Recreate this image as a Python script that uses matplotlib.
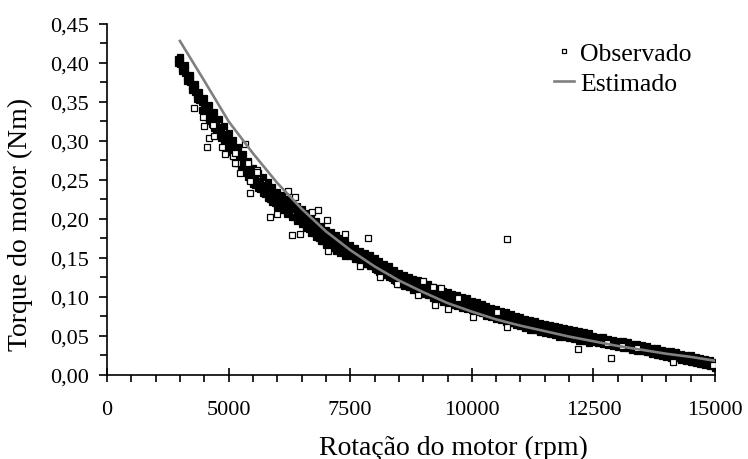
import numpy as np
import matplotlib
matplotlib.use("Agg")
import matplotlib.pyplot as plt
from matplotlib.ticker import MultipleLocator, FuncFormatter

plt.rcParams['font.family'] = ['Liberation Serif', 'DejaVu Serif']

# Estimated curve (rpm, Nm)
est_rpm = [4000, 4500, 5000, 5500, 6000, 6500, 7000, 7500, 8000, 8500, 9000, 9500,
           10000, 10500, 11000, 11500, 12000, 12500, 13000, 13500, 14000, 14500, 15000]
est_torque = [0.428, 0.377, 0.325, 0.284, 0.246, 0.213, 0.184, 0.160, 0.139, 0.121,
              0.106, 0.092, 0.081, 0.071, 0.063, 0.056, 0.049, 0.043, 0.037, 0.032,
              0.027, 0.023, 0.018]

# Observed band: five rows of samples every 100 rpm (torque in 1/1000 Nm)
obs_rpm = np.arange(4000, 15001, 100)
obs_rpm_b = np.arange(3950, 15000, 100)
obs_row1 = [408, 397, 385, 373, 362,
            355, 346, 337, 328, 319, 310, 301, 292, 283, 274, 265, 259, 253, 247, 241,
            235, 231, 226, 222, 217, 213, 208, 202, 197, 191, 186, 183, 179, 176, 172,
            166, 163, 159, 156, 153, 150, 146, 142, 139, 135, 131, 128, 126, 123, 121,
            118, 116, 113, 111, 108, 106, 104, 102, 100, 98,
            95, 93, 91, 88, 86, 84, 82, 80, 78, 76, 74, 72, 70, 69, 67, 65, 64, 63, 61,
            60, 59, 58, 56, 55, 53,
            50, 49, 48, 46, 45, 44, 43, 42, 40, 39, 38, 37, 35, 34, 32, 31, 30, 29, 27,
            26, 25, 23, 22, 20, 19, 17]
obs_row2 = [405, 394, 382, 370, 359,
            350, 341, 332, 323, 314, 305, 296, 287, 278, 269, 260, 254, 248, 242, 236,
            230, 226, 221, 217, 212, 208, 203, 197, 192, 186, 181, 178, 174, 171, 167,
            162, 159, 155, 152, 149, 146, 142, 138, 135, 131, 127, 124, 122, 119, 117,
            114, 112, 109, 107, 104, 102, 100, 98, 96, 94,
            92, 90, 88, 85, 83, 81, 79, 77, 75, 73, 71, 69, 67, 66, 64, 62, 61, 60, 58,
            57, 56, 55, 53, 52, 50,
            48, 47, 46, 44, 43, 42, 41, 40, 38, 37, 36, 35, 33, 32, 30, 29, 28, 27, 25,
            24, 23, 21, 20, 18, 17, 15]
obs_row3 = [403, 392, 380, 368, 357,
            345, 336, 327, 318, 309, 300, 291, 282, 273, 264, 255, 249, 243, 237, 231,
            225, 221, 216, 212, 207, 203, 198, 192, 187, 181, 176, 173, 169, 166, 162,
            159, 156, 152, 149, 146, 143, 139, 135, 132, 128, 124, 121, 119, 116, 114,
            111, 109, 106, 104, 101, 99, 97, 95, 93, 91,
            89, 87, 85, 82, 80, 78, 76, 74, 72, 70, 68, 66, 64, 63, 61, 59, 58, 57, 55,
            54, 53, 52, 50, 49, 47,
            46, 45, 44, 42, 41, 40, 39, 38, 36, 35, 34, 33, 31, 30, 28, 27, 26, 25, 23,
            22, 21, 19, 18, 16, 15, 13]
obs_row4 = [400, 389, 377, 365, 354,
            340, 331, 322, 313, 304, 295, 286, 277, 268, 259, 250, 244, 238, 232, 226,
            220, 216, 211, 207, 202, 198, 193, 187, 182, 176, 171, 168, 164, 161, 157,
            155, 152, 148, 145, 142, 139, 135, 131, 128, 124, 120, 117, 115, 112, 110,
            107, 105, 102, 100, 97, 95, 93, 91, 89, 87,
            86, 84, 82, 79, 77, 75, 73, 71, 69, 67, 65, 63, 61, 60, 58, 56, 55, 54, 52,
            51, 50, 49, 47, 46, 44,
            44, 43, 42, 40, 39, 38, 37, 36, 34, 33, 32, 31, 29, 28, 26, 25, 24, 23, 21,
            20, 19, 17, 16, 14, 13, 11]
obs_row5 = [398, 387, 375, 363, 352,
            335, 326, 317, 308, 299, 290, 281, 272, 263, 254, 245, 239, 233, 227, 221,
            215, 211, 206, 202, 197, 193, 188, 182, 177, 171, 166, 163, 159, 156, 152,
            152, 149, 145, 142, 139, 136, 132, 128, 125, 121, 117, 114, 112, 109, 107,
            104, 102, 99, 97, 94, 92, 90, 88, 86, 84,
            83, 81, 79, 76, 74, 72, 70, 68, 66, 64, 62, 60, 58, 57, 55, 53, 52, 51, 49,
            48, 47, 46, 44, 43, 41,
            42, 41, 40, 38, 37, 36, 35, 34, 32, 31, 30, 29, 27, 26, 24, 23, 22, 21, 19,
            18, 17, 15, 14, 12, 11, 9]

# Scattered observed points outside the main band
out_rpm = [4288, 4480, 4494, 4671, 4597, 4562, 4700, 4857, 4926, 5337, 5166, 5234,
           5405, 5440, 5440, 5590, 5091, 5132, 5132, 5577, 6228, 6365, 6709, 6845,
           5851, 5989, 6297, 6468, 7393, 7860, 7017, 7050, 7702, 8113, 8456, 8990,
           9209, 9361, 9723, 10512, 8900, 9243, 9517, 10031, 10718, 10724, 12190,
           12774, 12856, 13082, 13403, 14143, 14966]
out_torque = [0.342, 0.330, 0.319, 0.320, 0.303, 0.292, 0.306, 0.292, 0.283, 0.296,
              0.271, 0.259, 0.271, 0.249, 0.233, 0.262, 0.281, 0.285, 0.271, 0.260,
              0.236, 0.228, 0.209, 0.211, 0.202, 0.206, 0.179, 0.181, 0.181, 0.175,
              0.198, 0.159, 0.140, 0.125, 0.117, 0.120, 0.112, 0.111, 0.098, 0.080,
              0.102, 0.090, 0.085, 0.074, 0.061, 0.174, 0.033, 0.041, 0.021, 0.037,
              0.035, 0.017, 0.012]

x_ticks = [2500, 5000, 7500, 10000, 12500, 15000]
x_labels = ['0', '5000', '7500', '10000', '12500', '15000']

fig = plt.figure(figsize=(7.48, 4.60), dpi=100)
ax = fig.add_axes([0.143, 0.183, 0.813, 0.763])

# open squares; the densely overlapping band renders as solid black
mk = dict(marker='s', ms=3.7, mfc='white', mec='black', mew=0.9, ls='none')
core = dict(mk, mfc='black')
ax.plot(obs_rpm, np.array(obs_row1) / 1000, **core)
ax.plot(obs_rpm, np.array(obs_row5) / 1000, **core)
ax.plot(obs_rpm_b, np.array(obs_row2) / 1000, **core)
ax.plot(obs_rpm, np.array(obs_row3) / 1000, **core)
ax.plot(obs_rpm_b, np.array(obs_row4) / 1000, **core)
ax.plot(out_rpm, out_torque, label='Observado', **mk)
ax.plot(est_rpm, est_torque, color='#808080', lw=1.9, label='Estimado', zorder=5)

ax.set_xlim(2500, 15000)
ax.set_ylim(0, 0.45)
ax.set_xticks(x_ticks)
ax.set_xticklabels(x_labels)
ax.xaxis.set_minor_locator(MultipleLocator(500))
ax.yaxis.set_major_locator(MultipleLocator(0.05))
ax.yaxis.set_minor_locator(MultipleLocator(0.025))
ax.yaxis.set_major_formatter(FuncFormatter(lambda v, p: f"{v:.2f}".replace('.', ',')))

for s in ['top', 'right']:
    ax.spines[s].set_visible(False)
for s in ['left', 'bottom']:
    ax.spines[s].set_linewidth(1.2)

ax.tick_params(axis='y', which='major', direction='out', length=6, width=1.2,
               labelsize=16, pad=7)
ax.tick_params(axis='y', which='minor', direction='out', length=5, width=1.2)
ax.tick_params(axis='x', which='major', direction='inout', length=10, width=1.2,
               labelsize=16, pad=13)
ax.tick_params(axis='x', which='minor', direction='out', length=5, width=1.2)

ax.set_xlabel("Rotação do motor (rpm)", fontsize=20)
ax.set_ylabel("Torque do motor (Nm)", fontsize=20)
ax.xaxis.set_label_coords(0.569, -0.17)
ax.yaxis.set_label_coords(-0.121, 0.43)

leg = ax.legend(loc='upper left', bbox_to_anchor=(544 / 748, 1 - 33 / 460),
                bbox_transform=fig.transFigure, frameon=False, fontsize=18.5,
                handlelength=0.75, handletextpad=0.25, labelspacing=0.27,
                borderaxespad=0, markerscale=0.8)

fig.savefig("out.png", dpi=100)
plt.close(fig)
